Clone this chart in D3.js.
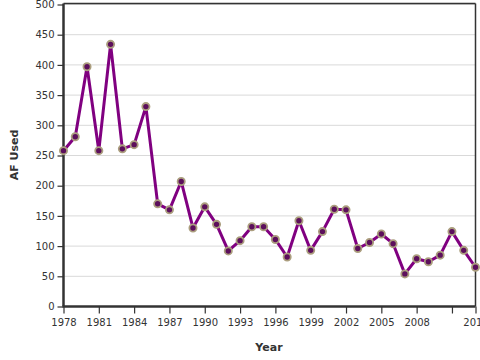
<!DOCTYPE html>
<html><head><meta charset="utf-8">
<script src="https://cdn.jsdelivr.net/npm/d3@7"></script>
<style>
html,body{margin:0;padding:0;background:#fff;}
svg{display:block;font-family:"DejaVu Sans",Verdana,sans-serif;}
</style></head>
<body>
<svg id="chart" width="480" height="360"></svg>
<script>
const years = d3.range(1978, 2014);
const afUsed = [258, 281, 397, 258, 434, 261, 268, 331, 170, 160, 207, 130, 165, 136, 92, 109, 132, 132, 111, 82, 142, 93, 124, 161, 160, 96, 106, 120, 104, 54, 79, 74, 85, 124, 93, 65];
const xTickValues = [1978, 1981, 1984, 1987, 1990, 1993, 1996, 1999, 2002, 2005, 2008, 2011, 2013];
const xTickLabels = ["1978", "1981", "1984", "1987", "1990", "1993", "1996", "1999", "2002", "2005", "2008", "", "2013"];
const yTickValues = [0, 50, 100, 150, 200, 250, 300, 350, 400, 450, 500];

const svg = d3.select("#chart");
const L = 63.5, R = 475.5, T = 4.5, B = 306.5;
const x = d3.scaleLinear().domain([1978, 2013]).range([L, R]);
const y = d3.scaleLinear().domain([0, 500]).range([B, T]);

// gridlines
svg.append("g").selectAll("line").data(yTickValues.filter(v => v > 0)).join("line")
  .attr("x1", L).attr("x2", R).attr("y1", d => y(d)).attr("y2", d => y(d))
  .attr("stroke", "#d9d9d9").attr("stroke-width", 1);

// frame top/right
svg.append("line").attr("x1", L).attr("x2", R).attr("y1", 3.5).attr("y2", 3.5).attr("stroke", "#333").attr("stroke-width", 1.5);
svg.append("line").attr("x1", R).attr("x2", R).attr("y1", 3.5).attr("y2", B).attr("stroke", "#333").attr("stroke-width", 1.5);

// y axis
const yAxis = svg.append("g").attr("transform", `translate(${L},0)`)
  .call(d3.axisLeft(y).tickValues(yTickValues).tickSize(6).tickPadding(3).tickFormat(d3.format("d")));
yAxis.select(".domain").attr("stroke", "#333").attr("stroke-width", 2.5).attr("d", `M0,${T - 1}V${B}`);
yAxis.selectAll(".tick line").attr("stroke", "#333").attr("stroke-width", 1.2);
yAxis.selectAll("text").attr("fill", "#333").attr("font-size", "10px").attr("font-family", "DejaVu Sans");

// x axis
const xAxis = svg.append("g").attr("transform", `translate(0,${B})`)
  .call(d3.axisBottom(x).tickValues(xTickValues).tickSize(7).tickPadding(5)
    .tickFormat((d, i) => xTickLabels[i]));
xAxis.select(".domain").attr("stroke", "#333").attr("stroke-width", 2.5).attr("d", `M${L - 1},0H${R}`);
xAxis.selectAll(".tick line").attr("stroke", "#333").attr("stroke-width", 1.2);
xAxis.selectAll("text").attr("fill", "#333").attr("font-size", "10px").attr("font-family", "DejaVu Sans");

// axis titles
svg.append("text").attr("x", 269).attr("y", 351).attr("text-anchor", "middle")
  .attr("font-size", "11px").attr("font-weight", "bold").attr("fill", "#333").text("Year");
svg.append("text").attr("transform", "translate(18,155) rotate(-90)").attr("text-anchor", "middle")
  .attr("font-size", "11px").attr("font-weight", "bold").attr("fill", "#333").text("AF Used");

const data = years.map((yr, i) => ({yr, v: afUsed[i]}));
svg.append("path").datum(data)
  .attr("fill", "none").attr("stroke", "#800080").attr("stroke-width", 3).attr("stroke-linejoin", "round")
  .attr("d", d3.line().x(d => x(d.yr)).y(d => y(d.v)));

svg.append("g").selectAll("circle").data(data).join("circle")
  .attr("cx", d => x(d.yr)).attr("cy", d => y(d.v)).attr("r", 3.6)
  .attr("fill", "#5c0f5c").attr("stroke", "#ab9e7e").attr("stroke-width", 1.8);
</script>
</body></html>
